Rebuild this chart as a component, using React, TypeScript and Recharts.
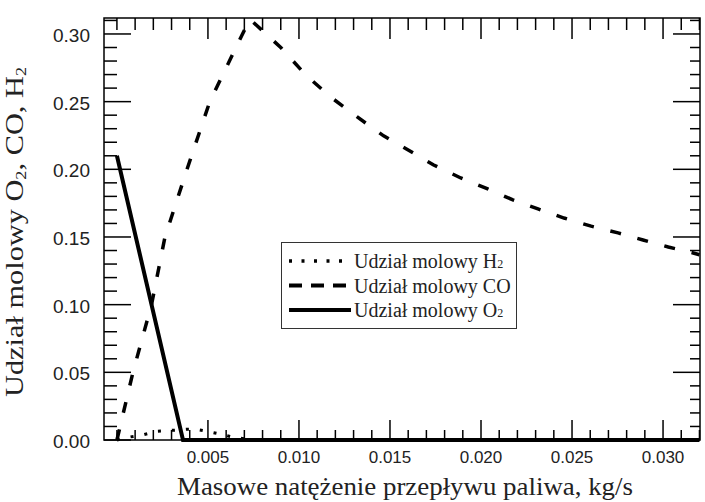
import React from 'react';
import { LineChart, Line, XAxis, YAxis } from 'recharts';

// Mass flow of fuel, kg/s (x) and molar fractions (y)
const coX = [0, 0.00088, 0.0019, 0.00264, 0.00385, 0.0051, 0.0069, 0.0073, 0.009, 0.01035, 0.01173, 0.0132, 0.01465, 0.016, 0.0174, 0.01889, 0.02037, 0.02175, 0.02313, 0.02456, 0.02605, 0.02753, 0.0289, 0.03029, 0.03166, 0.032];
const coY = [0, 0.05, 0.1, 0.15, 0.2, 0.25, 0.3, 0.311, 0.29, 0.27, 0.2535, 0.2387, 0.2247, 0.2143, 0.2032, 0.1936, 0.1855, 0.1774, 0.1707, 0.164, 0.158, 0.153, 0.1478, 0.1426, 0.1382, 0.1369];

const o2X = [0, 0.00363, 0.032];
const o2Y = [0.21, 0, 0];

const h2X = [0, 0.0006, 0.0014, 0.0022, 0.0029, 0.0039, 0.0043, 0.0051, 0.0058, 0.0064, 0.0075, 0.032];
const h2Y = [0, 0.002, 0.0037, 0.0065, 0.007, 0.008, 0.008, 0.006, 0.004, 0.002, 0, 0];

const xMajorTicks = [0.005, 0.01, 0.015, 0.02, 0.025, 0.03];
const xTickLabels = ['0.005', '0.010', '0.015', '0.020', '0.025', '0.030'];
const yMajorTicks = [0, 0.05, 0.1, 0.15, 0.2, 0.25, 0.3];
const yTickLabels = ['0.00', '0.05', '0.10', '0.15', '0.20', '0.25', '0.30'];

// minor ticks every 0.001 (x) and 0.01 (y)
const xTicks = Array.from({ length: 33 }, (_, i) => i / 1000);
const yTicks = Array.from({ length: 32 }, (_, i) => i / 100);

const toPoints = (xs: number[], ys: number[]) => xs.map((x, i) => ({ x, y: ys[i] }));
const coData = toPoints(coX, coY);
const o2Data = toPoints(o2X, o2Y);
const h2Data = toPoints(h2X, h2Y);

const X_DOMAIN: [number, number] = [-0.00071, 0.03203];
const Y_DOMAIN: [number, number] = [0, 0.3118];

// plot box in px (chart margins + axis sizes below)
const BOX = { left: 104, top: 18, width: 596, height: 422 };
const sx = (v: number) => BOX.left + ((v - X_DOMAIN[0]) / (X_DOMAIN[1] - X_DOMAIN[0])) * BOX.width;
const sy = (v: number) => BOX.top + BOX.height - ((v - Y_DOMAIN[0]) / (Y_DOMAIN[1] - Y_DOMAIN[0])) * BOX.height;

const SANS = '"Liberation Sans", Arial, sans-serif';
const SERIF = '"Liberation Serif", "Times New Roman", serif';

const isMajor = (v: number, list: number[]) => list.some((m) => Math.abs(m - v) < 1e-9);
const labelFor = (v: number, list: number[], labels: string[]) => {
  const i = list.findIndex((m) => Math.abs(m - v) < 1e-9);
  return i >= 0 ? labels[i] : '';
};

const BottomTick = ({ x, y, payload }: any) => (
  <text x={x} y={y + 23} textAnchor="middle" fontFamily={SANS} fontSize={17} fill="#222">
    {labelFor(payload.value, xMajorTicks, xTickLabels)}
  </text>
);

const LeftTick = ({ x, y, payload }: any) => (
  <text x={x - 14} y={y + 8} textAnchor="end" fontFamily={SANS} fontSize={19} fill="#222">
    {labelFor(payload.value, yMajorTicks, yTickLabels)}
  </text>
);

const Sub = ({ children }: { children: React.ReactNode }) => (
  <tspan fontSize="0.6em" dy={3}>{children}</tspan>
);

const bottom = BOX.top + BOX.height;
const right = BOX.left + BOX.width;

// box, inward tick marks on all four sides, axis titles
const Overlay = () => (
  <svg width={705} height={502} style={{ position: 'absolute', left: 0, top: 0, pointerEvents: 'none' }}>
    <rect x={BOX.left} y={BOX.top} width={BOX.width} height={BOX.height} stroke="#000" strokeWidth={1.5} fill="none" />
    {xTicks.map((v) => {
      const m = isMajor(v, xMajorTicks);
      const px = sx(v);
      return (
        <g key={`x${v}`}>
          <line x1={px} x2={px} y1={bottom} y2={bottom - (m ? 20 : 10)} stroke="#000" strokeWidth={1.5} />
          <line x1={px} x2={px} y1={BOX.top} y2={BOX.top + (m ? 21 : 12)} stroke="#000" strokeWidth={1.5} />
        </g>
      );
    })}
    {yTicks.map((v) => {
      const m = isMajor(v, yMajorTicks);
      const py = sy(v);
      return (
        <g key={`y${v}`}>
          <line x1={BOX.left} x2={BOX.left + (m ? 27 : 13)} y1={py} y2={py} stroke="#000" strokeWidth={1.5} />
          <line x1={right} x2={right - (m ? 27 : 10)} y1={py} y2={py} stroke="#000" strokeWidth={1.5} />
        </g>
      );
    })}
    <text transform="translate(23, 232) rotate(-90)" textAnchor="middle" fontFamily={SERIF} fontSize={25} fill="#222" textLength={330} lengthAdjust="spacingAndGlyphs">
      Udział molowy O<Sub>2</Sub><tspan dy={-3}>, CO, H</tspan><Sub>2</Sub>
    </text>
    <text x={405} y={495} textAnchor="middle" fontFamily={SERIF} fontSize={25} fill="#222" textLength={456} lengthAdjust="spacingAndGlyphs">
      Masowe natężenie przepływu paliwa, kg/s
    </text>
  </svg>
);

const legendRows = [
  { name: 'Udział molowy H', sub: '2', dash: '3 9.5', width: 3.5 },
  { name: 'Udział molowy CO', sub: '', dash: '13 9', width: 4 },
  { name: 'Udział molowy O', sub: '2', dash: '', width: 4 },
];

const LegendBox = () => (
  <div style={{ position: 'absolute', left: 281, top: 242, width: 236, height: 87, border: '1.5px solid #333', boxSizing: 'border-box', background: '#fff' }}>
    <svg width={233} height={84} style={{ display: 'block' }}>
      {legendRows.map((r, i) => {
        const cy = 18 + i * 24.5;
        return (
          <g key={r.name}>
            <line x1={7} x2={69} y1={cy} y2={cy} stroke="#000" strokeWidth={r.width} strokeDasharray={r.dash || undefined} />
            <text x={72} y={cy + 7} fontFamily={SERIF} fontSize={20} fill="#222">
              {r.name}
              {r.sub && <tspan fontSize={12}>{r.sub}</tspan>}
            </text>
          </g>
        );
      })}
    </svg>
  </div>
);

export default function App() {
  return (
    <div style={{ position: 'absolute', left: 0, top: 0, width: 705, height: 502, background: '#fff' }}>
      <LineChart width={705} height={502} margin={{ top: 18, right: 5, bottom: 0, left: 0 }}>
        <XAxis
          type="number"
          dataKey="x"
          domain={X_DOMAIN}
          ticks={xTicks}
          interval={0}
          tickSize={0}
          tickMargin={0}
          tickLine={false}
          tick={BottomTick}
          axisLine={false}
          height={62}
        />
        <YAxis
          type="number"
          domain={Y_DOMAIN}
          ticks={yTicks}
          interval={0}
          tickSize={0}
          tickMargin={0}
          tickLine={false}
          tick={LeftTick}
          axisLine={false}
          width={104}
        />
        <Line data={h2Data} dataKey="y" type="linear" stroke="#000" strokeWidth={3} strokeDasharray="3 11" dot={false} isAnimationActive={false} />
        <Line data={coData} dataKey="y" type="linear" stroke="#000" strokeWidth={3.5} strokeDasharray="11 17" dot={false} isAnimationActive={false} />
        <Line data={o2Data} dataKey="y" type="linear" stroke="#000" strokeWidth={4} dot={false} isAnimationActive={false} />
      </LineChart>
      <Overlay />
      <LegendBox />
    </div>
  );
}
